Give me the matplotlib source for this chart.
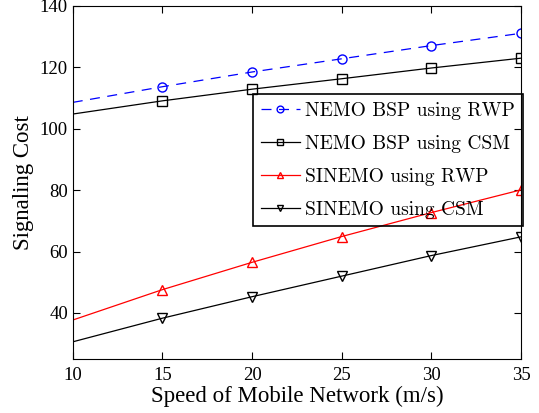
import matplotlib
matplotlib.use('Agg')
import matplotlib.pyplot as plt

# data
speed = [10, 15, 20, 25, 30, 35]
nemo_rwp = [108.6, 113.7, 118.5, 122.8, 127.1, 131.1]
nemo_csm = [104.8, 109.1, 112.9, 116.3, 119.8, 123.0]
sinemo_rwp = [37.7, 47.6, 56.5, 64.9, 72.7, 80.1]
sinemo_csm = [30.6, 38.3, 45.3, 52.0, 58.7, 64.8]

labels = ['NEMO BSP using RWP', 'NEMO BSP using CSM',
          'SINEMO using RWP', 'SINEMO using CSM']

plt.rcParams['font.family'] = ['Liberation Serif', 'DejaVu Serif']

fig, ax = plt.subplots(figsize=(5.39, 4.13), dpi=100)
fig.subplots_adjust(left=0.135, right=0.9666, top=0.9855, bottom=0.1307)

mk = dict(markersize=6.5, markerfacecolor='none', markevery=slice(1, None), linewidth=0.9)
ax.plot(speed, nemo_rwp, linestyle=(0, (8, 6)), color='blue', marker='o', label=labels[0], **mk)
ax.plot(speed, nemo_csm, '-', color='black', marker='s', label=labels[1], **mk)
ax.plot(speed, sinemo_rwp, '-', color='red', marker='^', label=labels[2], **mk)
ax.plot(speed, sinemo_csm, '-', color='black', marker='v', label=labels[3], **mk)

ax.set_xlim(10, 35)
ax.set_ylim(25, 140)
ax.set_xticks([10, 15, 20, 25, 30, 35])
ax.set_yticks([40, 60, 80, 100, 120, 140])
ax.tick_params(direction='in', top=True, right=True, labelsize=13.5, length=5)
ax.tick_params(axis='x', pad=6)
ax.set_xlabel('Speed of Mobile Network (m/s)', fontsize=16.5, labelpad=1)
ax.set_ylabel('Signaling Cost', fontsize=16.5, labelpad=4)

# legend box is see-through in the original: the red curve shows through it
leg = ax.legend(loc='upper right', bbox_to_anchor=(1.0045, 0.751), fancybox=False,
                edgecolor='black', facecolor='none', framealpha=1, borderaxespad=0,
                prop={'family': 'cmr10', 'size': 14}, handlelength=2.0,
                labelspacing=0.77, borderpad=0.4, handletextpad=0.3,
                markerscale=0.75)
leg.get_frame().set_linewidth(1.2)

fig.savefig('out.png', dpi=100)
